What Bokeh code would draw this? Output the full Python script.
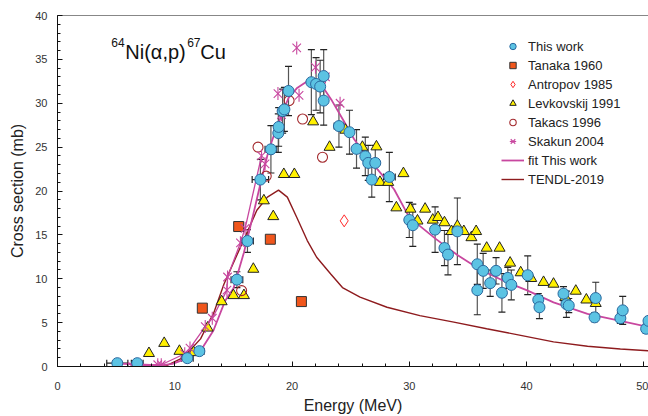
from bokeh.plotting import figure
from bokeh.models import (ColumnDataSource, Whisker, TeeHead, Legend, LegendItem,
                          Label, Range1d, Span, FixedTicker)
from bokeh.embed import file_html
from bokeh.resources import INLINE
import math

# ---------------- data ----------------
# This work (E, sigma, d_sigma, d_E)
this_e = [5.1, 6.8, 11.07, 12.1, 15.3, 16.2, 17.3, 18.2, 18.83, 18.86, 19.2, 19.35, 19.7,
          21.65, 22.05, 22.4, 22.7, 22.7, 24.0, 24.9, 25.5, 26.25, 26.5, 26.8, 27.1, 28.3,
          30.0, 30.3, 32.2, 33.0, 33.3, 34.1, 35.8, 35.8, 36.3, 36.9, 37.4, 37.9, 38.4, 38.7,
          40.1, 41.0, 41.1, 43.15, 43.4, 43.6, 45.8, 45.9, 48.0, 48.2, 50.2, 50.4]
this_s = [0.38, 0.38, 0.95, 1.75, 9.9, 14.3, 21.3, 24.75, 26.6, 27.3, 29.1, 29.3, 31.4,
          32.4, 32.2, 31.9, 33.1, 30.3, 27.4, 26.7, 24.8, 23.95, 23.2, 21.3, 23.2, 21.6,
          16.7, 16.1, 15.6, 13.5, 12.75, 15.4, 11.65, 8.7, 10.9, 9.5, 10.9, 8.4, 10.1, 9.3,
          10.4, 7.6, 6.75, 8.3, 7.1, 6.95, 5.6, 7.8, 5.5, 6.4, 4.3, 5.2]
this_ds = [0.05, 0.05, 0.1, 0.1, 0.9, 1.3, 2.3, 2.7, 2.2, 2.2, 2.5, 2.5, 2.8,
           3.7, 3.0, 3.0, 3.0, 2.8, 2.4, 2.5, 2.2, 2.2, 2.0, 2.0, 2.0, 2.8,
           2.0, 2.4, 2.6, 2.0, 2.3, 3.8, 2.3, 2.8, 2.0, 1.5, 1.5, 2.2, 1.2, 1.7,
           2.2, 0.7, 1.3, 0.8, 1.5, 0.8, 0.5, 1.8, 0.6, 1.6, 0.5, 0.5]
this_de = [0.9, 0.5, 0.5, 0.4, 0.5, 0.5, 0.7, 0.5, 0.0, 0.0, 0.0, 0.0, 0.0,
           0.0, 0.0, 0.0, 0.0, 0.0, 0.4, 0.0, 0.0, 0.0, 0.0, 0.0, 0.0, 0.5,
           0.0, 0.0, 0.0, 0.0, 0.0, 0.0, 0.0, 0.0, 0.0, 0.0, 0.0, 0.0, 0.0, 0.0,
           0.0, 0.0, 0.0, 0.0, 0.0, 0.0, 0.0, 0.0, 0.0, 0.0, 0.0, 0.0]

tanaka_e = [12.35, 15.45, 18.15, 20.8]
tanaka_s = [6.65, 15.95, 14.5, 7.4]

antropov_e = [24.45]
antropov_s = [16.6]

levk_e = [7.8, 9.1, 10.4, 11.6, 12.8, 14.0, 15.0, 15.9, 16.7, 17.6, 18.4, 19.3, 20.2,
          21.8, 23.2, 24.55, 26.0, 27.2, 27.5, 28.2, 28.9, 29.5, 30.1, 30.7, 31.35, 32.0,
          32.45, 33.0, 33.6, 34.1, 34.65, 35.3, 35.7, 36.6, 37.7, 38.6, 39.5, 40.4, 41.45,
          42.3, 43.3, 44.2, 45.1, 45.9]
levk_s = [1.5, 2.65, 1.75, 1.6, 4.4, 7.4, 8.1, 8.1, 11.1, 18.9, 17.1, 21.9, 21.9,
          27.9, 25.0, 26.95, 25.0, 25.05, 21.0, 21.0, 18.1, 22.0, 17.95, 16.6, 17.95, 16.7,
          17.0, 16.4, 15.4, 16.0, 15.4, 14.7, 15.4, 13.5, 13.5, 11.8, 10.7, 10.05, 9.6,
          9.4, 7.9, 8.6, 7.6, 7.2]

takacs_e = [15.7, 17.1, 17.8, 19.75, 20.9, 22.6]
takacs_s = [8.65, 25.0, 21.7, 30.3, 28.2, 23.85]

skakun_e = [6.4, 8.55, 8.85, 10.85, 11.3, 12.6, 13.2, 14.45, 14.5, 15.6, 16.0, 17.4,
            17.7, 18.8, 19.1, 20.4, 20.6, 22.0, 22.85, 24.1]
skakun_s = [0.0, 0.2, 0.2, 1.45, 2.1, 4.55, 5.5, 8.7, 10.2, 14.1, 15.75, 24.0,
            23.1, 31.1, 28.7, 36.3, 30.9, 34.1, 33.0, 30.0]

fit_e = [5.0, 7.0, 8.8, 9.8, 11.0, 12.2, 13.3, 14.3, 15.0, 15.9, 16.6, 17.3, 18.0, 18.6,
         19.3, 19.7, 20.4, 21.3, 22.0, 22.7, 23.4, 24.4, 25.3, 26.2, 27.2, 28.7, 30.0,
         32.2, 34.1, 36.1, 38.3, 40.0, 42.3, 45.2, 48.0, 50.4]
fit_s = [0.32, 0.25, 0.12, 0.3, 0.9, 1.8, 4.1, 7.5, 8.9, 13.0, 16.8, 20.8, 24.6, 26.9,
         29.3, 30.6, 31.7, 32.5, 32.4, 31.7, 30.3, 28.0, 25.9, 24.2, 22.6, 20.2, 17.0,
         14.6, 12.7, 11.0, 9.6, 8.7, 7.3, 6.0, 5.2, 4.5]

tendl_e = [7.1, 9.3, 10.75, 12.2, 13.0, 13.3, 14.2, 15.6, 17.0, 17.9, 18.85, 19.6, 20.4,
           21.3, 22.1, 23.3, 24.3, 25.8, 28.1, 30.9, 33.8, 36.6, 39.5, 42.3, 45.2, 48.0, 50.4]
tendl_s = [0.0, 0.1, 1.05, 3.15, 5.3, 6.0, 9.4, 13.6, 17.8, 19.3, 20.1, 19.3, 17.0,
           14.35, 12.45, 10.55, 9.0, 7.9, 6.75, 5.8, 5.05, 4.3, 3.55, 2.8, 2.3, 2.0, 1.8]

x_ticks = [0, 10, 20, 30, 40, 50]
y_ticks = [0, 5, 10, 15, 20, 25, 30, 35, 40]

# ---------------- figure ----------------
FONT = "Liberation Sans"
p = figure(width=648, height=416, x_range=Range1d(0, 50.4), y_range=Range1d(0, 40),
           output_backend="svg", toolbar_location=None,
           min_border_left=57, min_border_right=0, min_border_top=15, min_border_bottom=50)
p.outline_line_color = None
p.grid.visible = False
p.background_fill_color = "white"

for ax in (p.xaxis[0], p.yaxis[0]):
    ax.axis_line_color = "#111111"
    ax.axis_line_width = 1
    ax.major_tick_in = 5
    ax.major_tick_out = 0
    ax.minor_tick_in = 3
    ax.minor_tick_out = 0
    ax.major_tick_line_color = "#111111"
    ax.minor_tick_line_color = "#111111"
    ax.major_label_text_font = FONT
    ax.major_label_text_font_size = "11px"
    ax.major_label_text_color = "#333333"
    ax.axis_label_text_font = FONT
    ax.axis_label_text_font_size = "16px"
    ax.axis_label_text_font_style = "normal"
    ax.axis_label_text_color = "#222222"

p.xaxis.ticker = FixedTicker(ticks=x_ticks, minor_ticks=list(range(0, 51, 2)))
p.yaxis.ticker = FixedTicker(ticks=y_ticks, minor_ticks=list(range(0, 41, 1)))
p.xaxis.axis_label = "Energy (MeV)"
p.yaxis.axis_label = "Cross section (mb)"
p.xaxis.major_label_standoff = 15
p.xaxis.axis_label_standoff = 4
p.yaxis.major_label_standoff = 10
p.yaxis.axis_label_standoff = 6

p.add_layout(Span(location=40, dimension="width", line_color="#111111", line_width=1))

MAG = "#C8479F"
DRED = "#8E1B1E"

# lines
r_tendl = p.line(tendl_e, tendl_s, line_color=DRED, line_width=1.4)
r_fit = p.line(fit_e, fit_s, line_color=MAG, line_width=1.8)
p.line(skakun_e[:12], skakun_s[:12], line_color=MAG, line_width=1.3)

# error bars for this work
src = ColumnDataSource(dict(
    e=this_e, s=this_s,
    lo=[s - d for s, d in zip(this_s, this_ds)],
    hi=[s + d for s, d in zip(this_s, this_ds)],
    elo=[e - d for e, d in zip(this_e, this_de)],
    ehi=[e + d for e, d in zip(this_e, this_de)],
))
EB = "#555555"
p.add_layout(Whisker(source=src, base="e", lower="lo", upper="hi", dimension="height",
                     line_color=EB, line_width=1.2,
                     upper_head=TeeHead(size=7, line_color="#222222", line_width=1.2),
                     lower_head=TeeHead(size=7, line_color="#222222", line_width=1.2)))
p.add_layout(Whisker(source=src, base="s", lower="elo", upper="ehi", dimension="width",
                     line_color="#222222", line_width=1.2,
                     upper_head=TeeHead(size=7, line_color="#222222", line_width=1.2),
                     lower_head=TeeHead(size=7, line_color="#222222", line_width=1.2)))

r_lev = p.scatter(levk_e, levk_s, marker="triangle", size=11, fill_color="#FFF000",
                  line_color="#222222", line_width=1)
r_tan = p.scatter(tanaka_e, tanaka_s, marker="square", size=10, fill_color="#F0561C",
                  line_color="#333333", line_width=1)
r_ant = p.scatter(antropov_e, antropov_s, marker="diamond", size=12, fill_color=None,
                  line_color="#FF2A2A", line_width=1)
r_tak = p.scatter(takacs_e, takacs_s, marker="circle", size=10, fill_color=None,
                  line_color="#A3282C", line_width=1.1)
r_sk1 = p.scatter(skakun_e, skakun_s, marker="x", size=12, line_color=MAG, line_width=1.1)
r_sk2 = p.scatter(skakun_e, skakun_s, marker="dash", size=13, angle=math.pi / 2,
                  line_color=MAG, line_width=1.1)
r_this = p.scatter("e", "s", source=src, marker="circle", size=11, fill_color="#5CC3E3",
                   line_color="#2A69A0", line_width=1)

legend = Legend(items=[
    LegendItem(label="This work", renderers=[r_this]),
    LegendItem(label="Tanaka 1960", renderers=[r_tan]),
    LegendItem(label="Antropov 1985", renderers=[r_ant]),
    LegendItem(label="Levkovskij 1991", renderers=[r_lev]),
    LegendItem(label="Takacs 1996", renderers=[r_tak]),
    LegendItem(label="Skakun 2004", renderers=[r_sk1, r_sk2]),
    LegendItem(label="fit This work", renderers=[r_fit]),
    LegendItem(label="TENDL-2019", renderers=[r_tendl]),
], location=(444, 179))
legend.border_line_color = None
legend.background_fill_alpha = 0
legend.padding = 0
legend.margin = 0
legend.spacing = 3
legend.glyph_height = 16
legend.label_height = 16
legend.glyph_width = 23
legend.label_standoff = 4
legend.label_text_font = FONT
legend.label_text_font_size = "13px"
legend.label_text_color = "#222222"
p.add_layout(legend)

# reaction label
for txt, x, y, fs in [("64", 4.58, 36.9, "12px"), ("Ni(\u03b1,p)", 5.78, 35.8, "20px"),
                      ("67", 11.06, 36.9, "12px"), ("Cu", 12.17, 35.8, "20px")]:
    p.add_layout(Label(x=x, y=y, text=txt, text_font=FONT, text_font_size=fs,
                       text_baseline="alphabetic", text_color="#111111"))

open("out.html", "w").write(file_html(p, INLINE))
